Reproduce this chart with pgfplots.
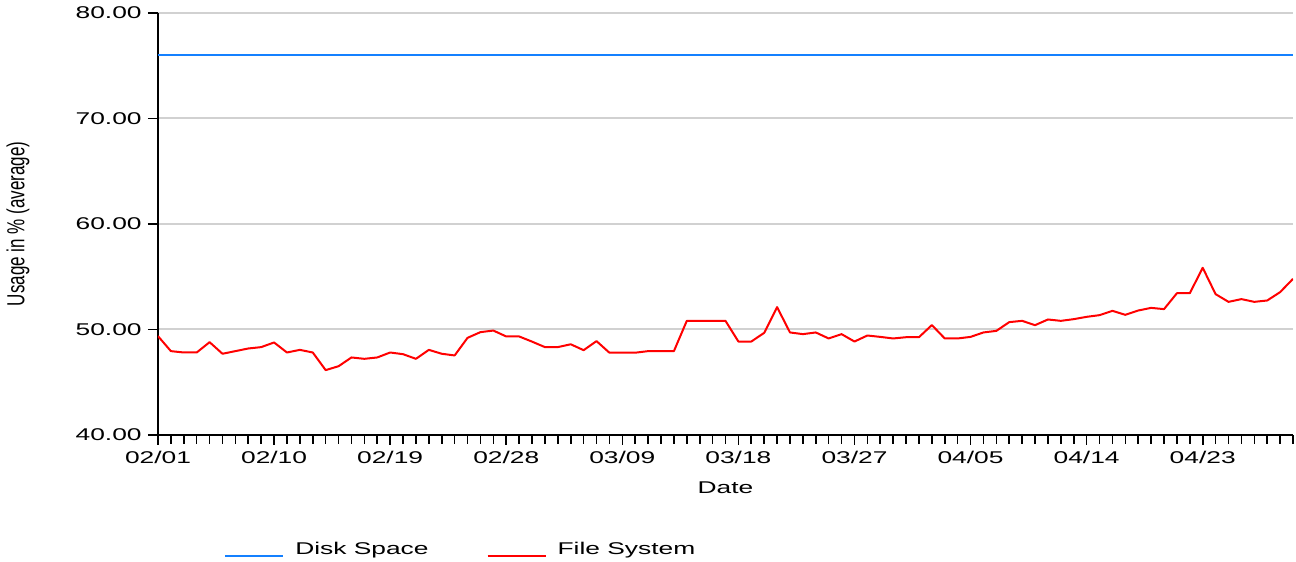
\documentclass[border=0pt]{standalone}
\usepackage{pgfplots}
\pgfplotsset{compat=1.18}
\usepackage{fontspec}
\usepackage{graphicx}
\setmainfont[FakeStretch=1.55]{Liberation Sans}
\newfontfamily\plainsans{Liberation Sans}
\definecolor{diskblue}{RGB}{20,128,255}
\definecolor{fsred}{RGB}{255,0,0}
\newcommand{\chartfont}{\fontsize{8.5}{10}\selectfont}

\begin{document}
\begin{tikzpicture}
\begin{axis}[
  name=ax,
  scale only axis,
  width=567.5pt, height=211pt,
  xmin=0, xmax=88, ymin=40, ymax=80,
  axis lines=left,
  axis line style={-, line width=1pt, black},
  xtick={0,9,...,81},
  xticklabels={02/01,02/10,02/19,02/28,03/09,03/18,03/27,04/05,04/14,04/23},
  minor xtick={0,...,88},
  ytick={40,50,...,80},
  yticklabels={40.00,50.00,60.00,70.00,80.00},
  tick align=outside,
  major tick length=5pt, minor tick length=4.5pt,
  tick style={black, line width=0.8pt},
  ymajorgrids,
  grid style={black!18, line width=1pt},
  tick label style={font=\chartfont, inner sep=0pt},
  xticklabel style={yshift=-3pt},
  yticklabel style={xshift=-3pt},
  xlabel={Date},
  xlabel style={at={(axis description cs:0.5,0)}, anchor=north, inner sep=0pt, yshift=-23.3pt, font=\chartfont},
  ylabel={\plainsans\chartfont\scalebox{1}[1.45]{Usage in \% (average)}},
  ylabel style={at={(axis description cs:-0.1233,0.5)}, anchor=center, inner sep=0pt},
  legend columns=-1,
  legend image code/.code={\draw[#1] (0pt,-3.2pt) -- (29pt,-3.2pt);},
  legend style={at={(axis description cs:0.0581,-0.2526)}, anchor=north west,
    draw=none, inner sep=0pt, font=\chartfont, nodes={inner sep=0pt},
    /tikz/every odd column/.append style={column sep=5.5pt},
    /tikz/every even column/.append style={column sep=29pt}},
]
\addplot[diskblue, line width=1pt] coordinates {(0,76) (88,76)};
\addlegendentry{Disk Space}
\addplot[fsred, line width=1pt, line join=round] coordinates {
(0,49.37) (1,47.95) (2,47.82) (3,47.82) (4,48.80) (5,47.70) (6,47.95) (7,48.20) (8,48.33) (9,48.77)
(10,47.82) (11,48.07) (12,47.82) (13,46.15) (14,46.52) (15,47.35) (16,47.22) (17,47.35) (18,47.82) (19,47.66)
(20,47.22) (21,48.07) (22,47.70) (23,47.54) (24,49.21) (25,49.75) (26,49.90) (27,49.34) (28,49.34) (29,48.85)
(30,48.33) (31,48.33) (32,48.60) (33,48.04) (34,48.90) (35,47.80) (36,47.80) (37,47.80) (38,47.95) (39,47.95)
(40,47.95) (41,50.82) (42,50.82) (43,50.82) (44,50.82) (45,48.86) (46,48.86) (47,49.68) (48,52.12) (49,49.72)
(50,49.56) (51,49.72) (52,49.15) (53,49.56) (54,48.86) (55,49.43) (56,49.30) (57,49.15) (58,49.27) (59,49.27)
(60,50.42) (61,49.15) (62,49.15) (63,49.30) (64,49.72) (65,49.87) (66,50.70) (67,50.82) (68,50.41) (69,50.95)
(70,50.82) (71,50.98) (72,51.20) (73,51.36) (74,51.77) (75,51.39) (76,51.80) (77,52.05) (78,51.93) (79,53.44)
(80,53.44) (81,55.85) (82,53.35) (83,52.62) (84,52.88) (85,52.62) (86,52.75) (87,53.54) (88,54.80)};
\addlegendentry{File System}
\end{axis}
\path ([xshift=-79pt,yshift=-63.5pt]ax.south west) rectangle ([xshift=1.5pt,yshift=6.5pt]ax.north east);
\end{tikzpicture}
\end{document}
